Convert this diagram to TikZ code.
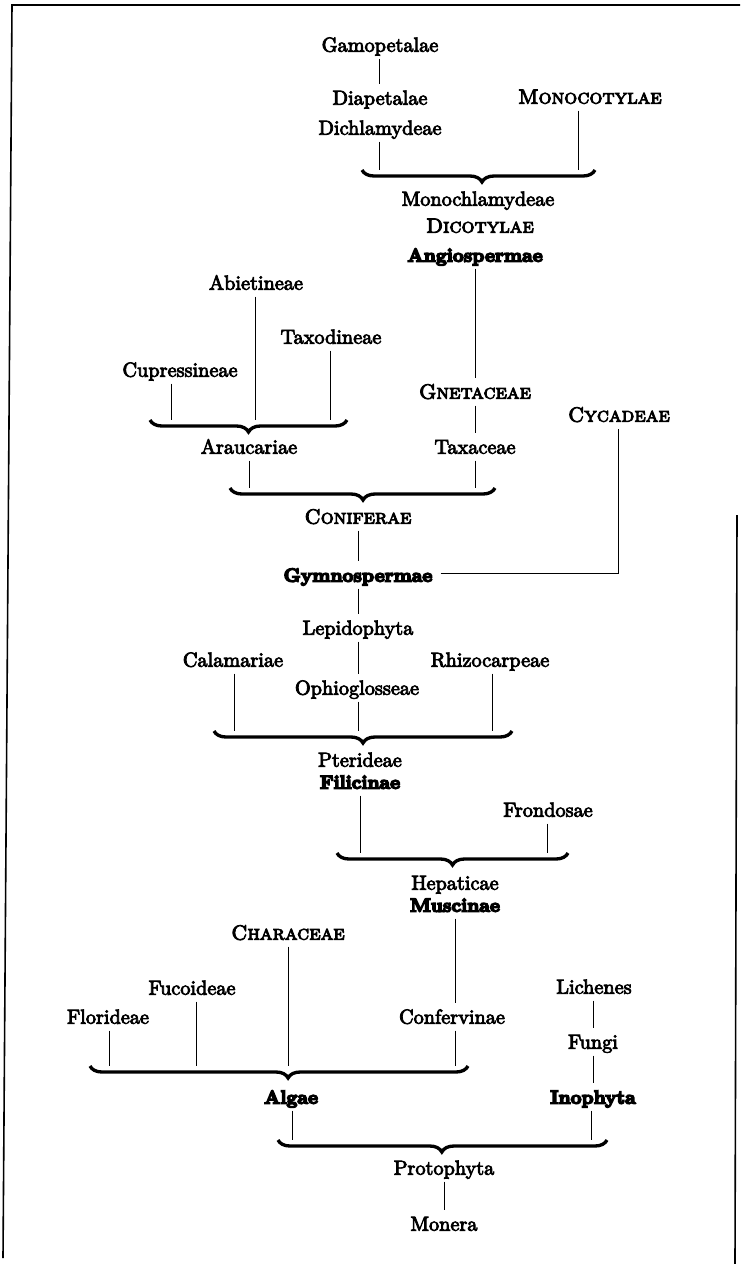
\documentclass[tikz,border=0pt]{standalone}
\usepackage{fontspec}
\newfontfamily\medrm{lmroman10-regular.otf}[FakeBold=4]
\newfontfamily\medsc{lmromancaps10-regular.otf}[FakeBold=4.5]
\newfontfamily\heavyrm{lmroman10-bold.otf}[FakeBold=8]
\usetikzlibrary{decorations.pathreplacing,calc}
\begin{document}
\begin{tikzpicture}[x=0.75pt,y=-0.75pt,
  lbl/.style={font=\fontsize{15.2}{17}\medrm, inner xsep=1pt, inner ysep=5pt, text height=10pt, text depth=0pt},
  blbl/.style={lbl, font=\fontsize{14.2}{17}\heavyrm},
  sclbl/.style={lbl, font=\fontsize{15.4}{17}\medsc},
  conn/.style={line width=0.7pt},
  brc/.style={decorate, decoration={brace, mirror, amplitude=9pt, aspect=#1}, line width=2.5pt},
  brc/.default=0.5,
  frm/.style={line width=1.2pt}]
\useasboundingbox (0,0) rectangle (740,1264);
% frame
\draw[frm] (740,5) -- (12,5) -- (3,1258);
\draw[frm] (737,515) -- (735,1264);

% Angiospermae group
\node[lbl]  (Gamo)   at (380,45)  {Gamopetalae};
\node[lbl]  (Diap)   at (380,98)  {Diapetalae};
\node[lbl]  (Dich)   at (380,128) {Dichlamydeae};
\node[sclbl](Mono)   at (590,97)  {Monocotylae};
\coordinate (b1s) at (362,170); \coordinate (b1e) at (595,170);
\coordinate (b1l) at (379,170); \coordinate (b1r) at (578,170);
\draw[brc=0.515] (b1s) -- (b1e);
\node[lbl]  (Monoch) at (478,199) {Monochlamydeae};
\node[sclbl](Dico)   at (480,226) {Dicotylae};
\node[blbl] (Angio)  at (475,255) {Angiospermae};
\draw[conn] (Gamo.south -| b1l) -- (Diap.north -| b1l);
\draw[conn] (Dich.south -| b1l) -- (b1l);
\draw[conn] (Mono.south -| b1r) -- (b1r);

% Gymnospermae group
\node[sclbl](Gnet)   at (475,392) {Gnetaceae};
\node[lbl]  (Taxa)   at (475,447) {Taxaceae};
\node[lbl]  (Abiet)  at (256,283) {Abietineae};
\node[lbl]  (Taxod)  at (331,337) {Taxodineae};
\node[lbl]  (Cupr)   at (180,370) {Cupressineae};
\coordinate (b2s) at (150,420); \coordinate (b2e) at (347,420);
\coordinate (b2a) at (171,420); \coordinate (b2b) at (255,420); \coordinate (b2c) at (330,420);
\draw[brc=0.5] (b2s) -- (b2e);
\node[lbl]  (Arau)   at (249,447) {Araucariae};
\coordinate (b3s) at (230,488); \coordinate (b3e) at (495,488);
\coordinate (b3a) at (249,488); \coordinate (b3b) at (475,488);
\draw[brc=0.502] (b3s) -- (b3e);
\node[sclbl](Conif)  at (358,517) {Coniferae};
\node[blbl] (Gymno)  at (358,575) {Gymnospermae};
\node[sclbl](Cycad)  at (619,415) {Cycadeae};
\coordinate (cyc) at (618,573);
\draw[conn] (Angio.south) -- (Gnet.north);
\draw[conn] (Gnet.south) -- (Taxa.north);
\draw[conn] (Taxa.south) -- (b3b);
\draw[conn] (Abiet.south -| b2b) -- (b2b);
\draw[conn] (Taxod.south -| b2c) -- (b2c);
\draw[conn] (Cupr.south -| b2a) -- (b2a);
\draw[conn] (Arau.south) -- (b3a);
\draw[conn] (Conif.south) -- (Gymno.north);
\draw[conn] ([xshift=5pt]Gymno.east |- cyc) -- (cyc) -- (Cycad.south -| cyc);

% Filicinae group
\node[lbl]  (Lepid)  at (358,628) {Lepidophyta};
\node[lbl]  (Calam)  at (233,660) {Calamariae};
\node[lbl]  (Rhizo)  at (490,660) {Rhizocarpeae};
\node[lbl]  (Ophio)  at (357,688) {Ophioglosseae};
\coordinate (b4s) at (214,731); \coordinate (b4e) at (512,731);
\coordinate (b4a) at (234,731); \coordinate (b4b) at (358,731); \coordinate (b4c) at (492,731);
\draw[brc=0.5] (b4s) -- (b4e);
\node[lbl]  (Pteri)  at (360,760) {Pterideae};
\node[blbl] (Filic)  at (360,782) {Filicinae};
\draw[conn] (Gymno.south) -- (Lepid.north);
\draw[conn] (Lepid.south) -- (Ophio.north -| Lepid.south);
\draw[conn] (Ophio.south -| b4b) -- (b4b);
\draw[conn] (Calam.south -| b4a) -- (b4a);
\draw[conn] (Rhizo.south -| b4c) -- (b4c);

% Muscinae group
\node[lbl]  (Frond)  at (548,810) {Frondosae};
\coordinate (b5s) at (337,853); \coordinate (b5e) at (568,853);
\coordinate (b5a) at (360,853); \coordinate (b5b) at (547,853);
\draw[brc=0.5] (b5s) -- (b5e);
\node[lbl]  (Hepat)  at (455,883) {Hepaticae};
\node[blbl] (Musci)  at (455,905) {Muscinae};
\draw[conn] (Filic.south) -- (b5a);
\draw[conn] (Frond.south -| b5b) -- (b5b);

% Algae group
\node[sclbl](Chara)  at (288,933) {Characeae};
\node[lbl]  (Fucoi)  at (192,988) {Fucoideae};
\node[lbl]  (Flori)  at (108,1017) {Florideae};
\node[lbl]  (Conf)   at (452,1017) {Confervinae};
\coordinate (b6s) at (90,1066); \coordinate (b6e) at (468,1066);
\coordinate (b6a) at (109,1066); \coordinate (b6b) at (196,1066);
\coordinate (b6c) at (288,1066); \coordinate (b6d) at (455,1066);
\draw[brc=0.524] (b6s) -- (b6e);
\node[blbl] (Algae)  at (291,1097) {Algae};
\draw[conn] (Musci.south) -- (Musci.south |- Conf.north);
\draw[conn] (Conf.south -| b6d) -- (b6d);
\draw[conn] (Chara.south) -- (b6c);
\draw[conn] (Fucoi.south -| b6b) -- (b6b);
\draw[conn] (Flori.south -| b6a) -- (b6a);

% Inophyta group
\node[lbl]  (Lich)   at (594,987) {Lichenes};
\node[lbl]  (Fungi)  at (593,1042) {Fungi};
\node[blbl] (Ino)    at (593,1097) {Inophyta};
\draw[conn] (Lich.south -| Fungi.north) -- (Fungi.north);
\draw[conn] (Fungi.south) -- (Ino.north);

% Protophyta
\coordinate (b7s) at (278,1140); \coordinate (b7e) at (607,1140);
\coordinate (b7a) at (292,1140); \coordinate (b7b) at (591,1140);
\draw[brc=0.498] (b7s) -- (b7e);
\node[lbl]  (Proto)  at (444,1168) {Protophyta};
\node[lbl]  (Mon)    at (444,1224) {Monera};
\draw[conn] (Algae.south -| b7a) -- (b7a);
\draw[conn] (Ino.south -| b7b) -- (b7b);
\draw[conn] (Proto.south) -- (Mon.north);
\end{tikzpicture}
\end{document}
